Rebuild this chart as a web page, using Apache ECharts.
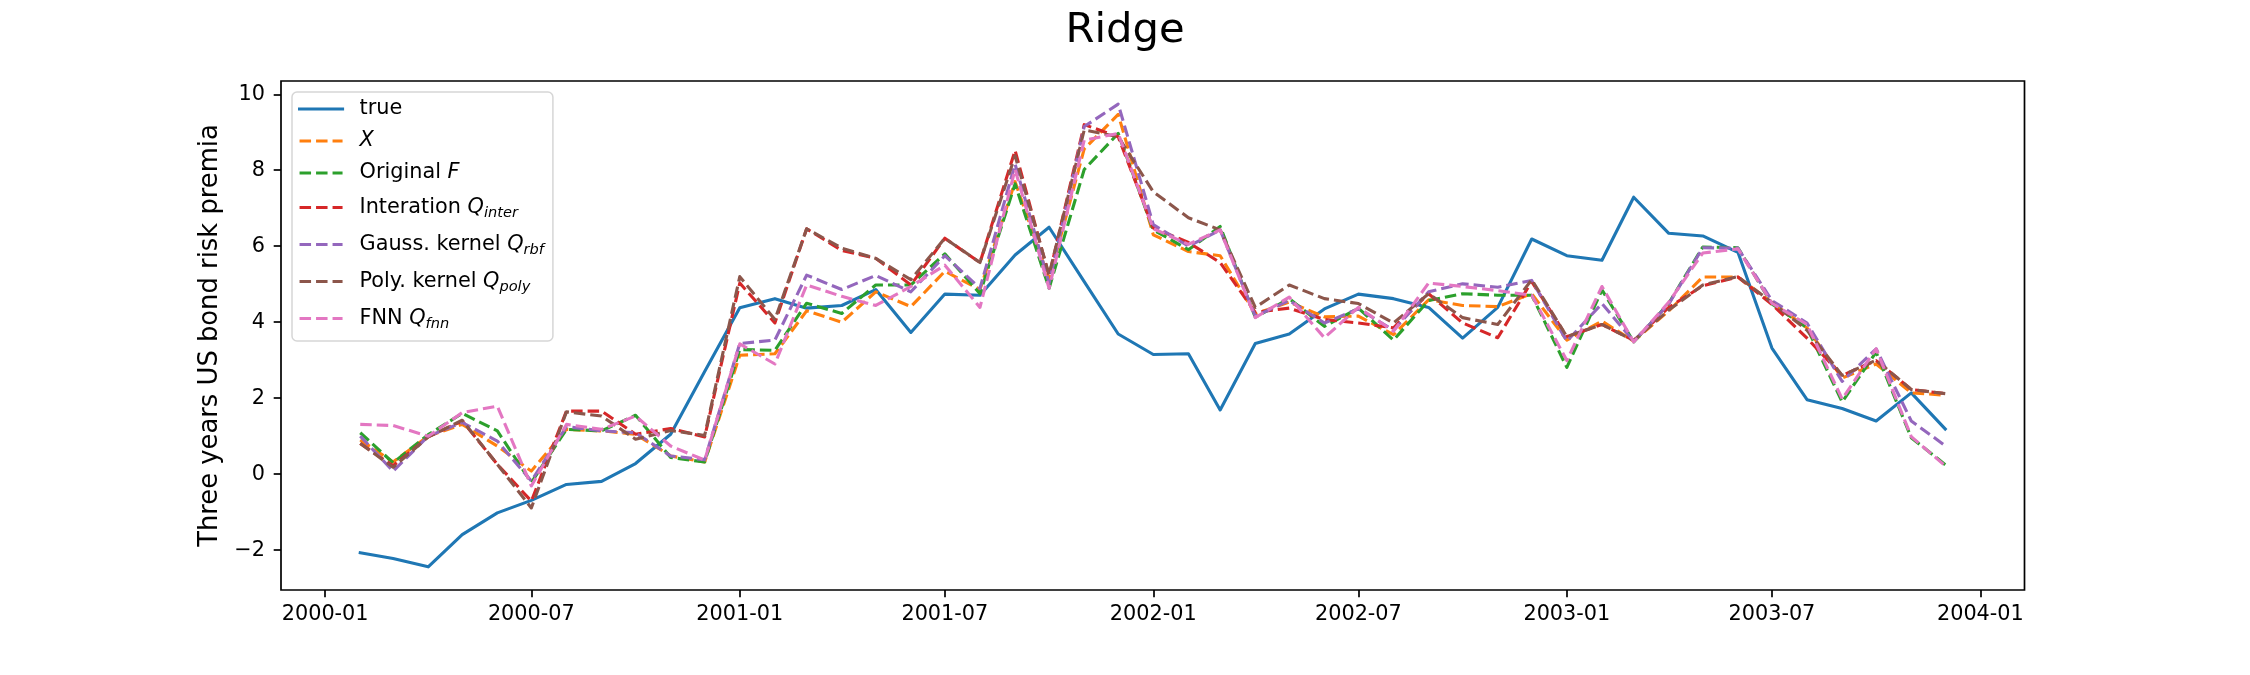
<!DOCTYPE html>
<html>
<head>
<meta charset="utf-8">
<title>Ridge</title>
<script src="https://cdn.jsdelivr.net/npm/echarts@6/dist/echarts.min.js"></script>
<style>
    html, body { margin: 0; padding: 0; background: #fff; }
    #main { width: 2250px; height: 675px; }
</style>
</head>
<body>
<div id="main"></div>
<script>
"use strict";

// 月度日期 (2000-02 ~ 2003-12)
let months = [
    '2000-02', '2000-03', '2000-04', '2000-05', '2000-06', '2000-07', '2000-08', '2000-09', '2000-10', '2000-11', '2000-12',
    '2001-01', '2001-02', '2001-03', '2001-04', '2001-05', '2001-06', '2001-07', '2001-08', '2001-09', '2001-10', '2001-11', '2001-12',
    '2002-01', '2002-02', '2002-03', '2002-04', '2002-05', '2002-06', '2002-07', '2002-08', '2002-09', '2002-10', '2002-11', '2002-12',
    '2003-01', '2003-02', '2003-03', '2003-04', '2003-05', '2003-06', '2003-07', '2003-08', '2003-09', '2003-10', '2003-11', '2003-12'
];

// 真实值
let trueVals = [-2.07, -2.22, -2.44, -1.59, -1.02, -0.69, -0.27, -0.19, 0.28, 1.05,
    2.70, 4.38, 4.62, 4.37, 4.44, 4.86, 3.73, 4.74, 4.71, 5.77,
    6.50, 5.07, 3.69, 3.15, 3.17, 1.69, 3.44, 3.69, 4.35, 4.74,
    4.62, 4.39, 3.58, 4.39, 6.19, 5.75, 5.63, 7.29, 6.34, 6.27,
    5.84, 3.32, 1.96, 1.73, 1.40, 2.14, 1.19];
// X
let predX = [0.90, 0.32, 1.00, 1.31, 0.74, 0.08, 1.18, 1.14, 1.05, 0.48,
    0.32, 3.13, 3.17, 4.30, 4.00, 4.80, 4.41, 5.34, 4.86, 7.70,
    5.12, 8.56, 9.47, 6.30, 5.86, 5.75, 4.22, 4.53, 4.14, 4.16,
    3.67, 4.59, 4.44, 4.41, 4.75, 3.53, 4.03, 3.50, 4.30, 5.19,
    5.19, 4.52, 3.85, 2.53, 2.90, 2.14, 2.08];
// Original F
let predF = [1.09, 0.30, 1.04, 1.60, 1.14, -0.22, 1.18, 1.14, 1.55, 0.44,
    0.32, 3.28, 3.26, 4.50, 4.23, 4.98, 4.98, 5.80, 4.75, 7.64,
    4.89, 8.02, 8.97, 6.43, 5.91, 6.52, 4.13, 4.62, 3.89, 4.37,
    3.53, 4.57, 4.75, 4.71, 4.71, 2.81, 4.85, 3.48, 4.50, 5.98,
    5.96, 4.48, 3.85, 1.90, 3.21, 0.96, 0.25];
// Interation Q_inter
let predInter = [0.81, 0.22, 0.98, 1.40, 0.26, -0.71, 1.66, 1.66, 1.05, 1.20,
    0.98, 5.03, 3.98, 6.46, 5.89, 5.68, 4.98, 6.21, 5.57, 8.52,
    5.21, 9.20, 8.88, 6.48, 6.10, 5.57, 4.26, 4.37, 4.07, 3.98,
    3.85, 4.75, 3.98, 3.59, 5.07, 3.62, 3.94, 3.52, 4.39, 4.96,
    5.19, 4.47, 3.58, 2.60, 2.99, 2.23, 2.12];
// Gauss. kernel Q_rbf
let predRbf = [1.00, 0.08, 1.00, 1.36, 0.87, -0.18, 1.25, 1.14, 1.09, 0.48,
    0.38, 3.44, 3.53, 5.24, 4.86, 5.23, 4.80, 5.75, 4.89, 8.16,
    5.03, 9.15, 9.74, 6.57, 6.00, 6.43, 4.16, 4.57, 3.98, 4.35,
    3.79, 4.80, 5.01, 4.92, 5.10, 3.50, 4.49, 3.50, 4.48, 5.96,
    5.95, 4.57, 3.98, 2.44, 3.30, 1.40, 0.75];
// Poly. kernel Q_poly
let predPoly = [0.81, 0.18, 0.98, 1.42, 0.26, -0.89, 1.64, 1.53, 0.92, 1.15,
    1.02, 5.20, 4.07, 6.46, 5.95, 5.68, 5.12, 6.21, 5.57, 8.38,
    5.25, 9.06, 8.88, 7.43, 6.75, 6.43, 4.39, 4.98, 4.62, 4.49,
    3.98, 4.75, 4.12, 3.94, 5.12, 3.62, 3.94, 3.52, 4.32, 4.98,
    5.20, 4.52, 3.79, 2.60, 3.00, 2.23, 2.12];
// FNN Q_fnn
let predFnn = [1.31, 1.28, 1.00, 1.62, 1.79, -0.31, 1.31, 1.18, 1.53, 0.74,
    0.37, 3.43, 2.90, 4.98, 4.68, 4.44, 4.94, 5.50, 4.39, 8.02,
    4.89, 8.79, 8.97, 6.46, 6.05, 6.43, 4.12, 4.66, 3.59, 4.39,
    3.76, 5.03, 4.94, 4.83, 4.71, 2.99, 4.94, 3.48, 4.53, 5.82,
    5.93, 4.50, 3.94, 1.98, 3.30, 0.99, 0.22];

// 刻度
let xTickLabels = ['2000-01', '2000-07', '2001-01', '2001-07', '2002-01', '2002-07', '2003-01', '2003-07', '2004-01'];
let yTicks = [-2, 0, 2, 4, 6, 8, 10];

// 图例文字（数学斜体 + 下标）
let legendText = {
    'true': 'true',
    'X': '{it|X}',
    'Original F': 'Original {it|F}',
    'Interation Q_inter': 'Interation {it|Q}{sub|inter}',
    'Gauss. kernel Q_rbf': 'Gauss. kernel {it|Q}{sub|rbf}',
    'Poly. kernel Q_poly': 'Poly. kernel {it|Q}{sub|poly}',
    'FNN Q_fnn': 'FNN {it|Q}{sub|fnn}',
};

let FONT = 'DejaVu Sans';

function toTime(s) {
    let p = s.split('-');
    return new Date(+p[0], +p[1] - 1, 1).getTime();
}

let times = months.map(toTime);
let xTicks = xTickLabels.map(toTime);

// matplotlib 默认 5% 边距
let tSpan = times[times.length - 1] - times[0];
let xMin = times[0] - tSpan * 0.05;
let xMax = times[times.length - 1] + tSpan * 0.05;

let allVals = [].concat(trueVals, predX, predF, predInter, predRbf, predPoly, predFnn);
let vMin = Math.min.apply(null, allVals);
let vMax = Math.max.apply(null, allVals);
let yMin = vMin - (vMax - vMin) * 0.05;
let yMax = vMax + (vMax - vMin) * 0.05;

function pairs(vals) {
    return vals.map(function (v, i) { return [times[i], v]; });
}

let DASH = [11.5, 5];

function makeSeries(name, vals, color, dashed) {
    return {
        name: name,
        type: 'line',
        data: pairs(vals),
        symbol: 'none',
        showSymbol: false,
        lineStyle: {
            color: color,
            width: 3.1,
            type: dashed ? DASH : 'solid',
            join: 'round',
            cap: dashed ? 'butt' : 'square',
        },
        itemStyle: { color: color },
        emphasis: { disabled: true },
    };
}

let myChart = echarts.init(document.getElementById('main'), null, { renderer: 'canvas' });

let option = {
    animation: false,
    backgroundColor: '#ffffff',
    title: { // 标题
        text: 'Ridge',
        left: 'center',
        top: 5,
        textStyle: {
            fontFamily: FONT,
            fontSize: 41.7,
            fontWeight: 'normal',
            color: '#000',
        },
    },
    legend: { // 图例
        orient: 'vertical',
        left: 292,
        top: 92,
        padding: [6, 9, 9, 6],
        itemWidth: 43,
        itemHeight: 14,
        itemGap: 10,
        backgroundColor: 'rgba(255,255,255,0.8)',
        borderColor: '#d6d6d6',
        borderWidth: 1.5,
        borderRadius: 5,
        itemStyle: { opacity: 0 }, // 只画线，不画拐点符号
        lineStyle: { width: 3.1 },
        data: ['true', 'X', 'Original F', 'Interation Q_inter', 'Gauss. kernel Q_rbf', 'Poly. kernel Q_poly', 'FNN Q_fnn'],
        formatter: function (name) {
            return legendText[name];
        },
        textStyle: {
            fontFamily: FONT,
            fontSize: 20.8,
            color: '#000',
            lineHeight: 22,
            padding: [0, 0, 0, 12],
            rich: {
                it: {
                    fontFamily: FONT,
                    fontStyle: 'italic',
                    fontSize: 20.8,
                    lineHeight: 22,
                },
                sub: {
                    fontFamily: FONT,
                    fontStyle: 'italic',
                    fontSize: 14.6,
                    lineHeight: 22,
                    padding: [12, 0, 0, 0],
                },
            },
        },
    },
    grid: { // 坐标系
        left: 281,
        right: 225.5,
        top: 81,
        bottom: 85,
        show: true,
        borderColor: '#000',
        borderWidth: 1.7,
        backgroundColor: 'transparent',
        outerBoundsMode: 'none',
    },
    xAxis: {
        type: 'value',
        min: xMin,
        max: xMax,
        axisLine: { show: false, onZero: false },
        splitLine: { show: false },
        axisTick: {
            show: true,
            length: 7.3,
            lineStyle: { color: '#000', width: 1.7 },
            customValues: xTicks,
        },
        axisLabel: {
            margin: 14.6,
            fontFamily: FONT,
            fontSize: 20.8,
            color: '#000',
            customValues: xTicks,
            formatter: function (value) {
                let d = new Date(value);
                let m = d.getMonth() + 1;
                return d.getFullYear() + '-' + (m < 10 ? '0' + m : m);
            },
        },
    },
    yAxis: {
        type: 'value',
        min: yMin,
        max: yMax,
        name: 'Three years US bond risk premia',
        nameLocation: 'middle',
        nameRotate: 90,
        nameGap: 55,
        nameTextStyle: {
            fontFamily: FONT,
            fontSize: 25.8,
            color: '#000',
        },
        axisLine: { show: false, onZero: false },
        splitLine: { show: false },
        axisTick: {
            show: true,
            length: 7.3,
            lineStyle: { color: '#000', width: 1.7 },
            customValues: yTicks,
        },
        axisLabel: {
            margin: 16,
            fontFamily: FONT,
            fontSize: 20.8,
            color: '#000',
            customValues: yTicks,
            formatter: function (value) {
                return value < 0 ? '\u2212' + Math.abs(value) : String(value);
            },
        },
    },
    series: [
        makeSeries('true', trueVals, '#1f77b4', false),
        makeSeries('X', predX, '#ff7f0e', true),
        makeSeries('Original F', predF, '#2ca02c', true),
        makeSeries('Interation Q_inter', predInter, '#d62728', true),
        makeSeries('Gauss. kernel Q_rbf', predRbf, '#9467bd', true),
        makeSeries('Poly. kernel Q_poly', predPoly, '#8c564b', true),
        makeSeries('FNN Q_fnn', predFnn, '#e377c2', true),
    ],
};

myChart.setOption(option);
</script>
</body>
</html>
